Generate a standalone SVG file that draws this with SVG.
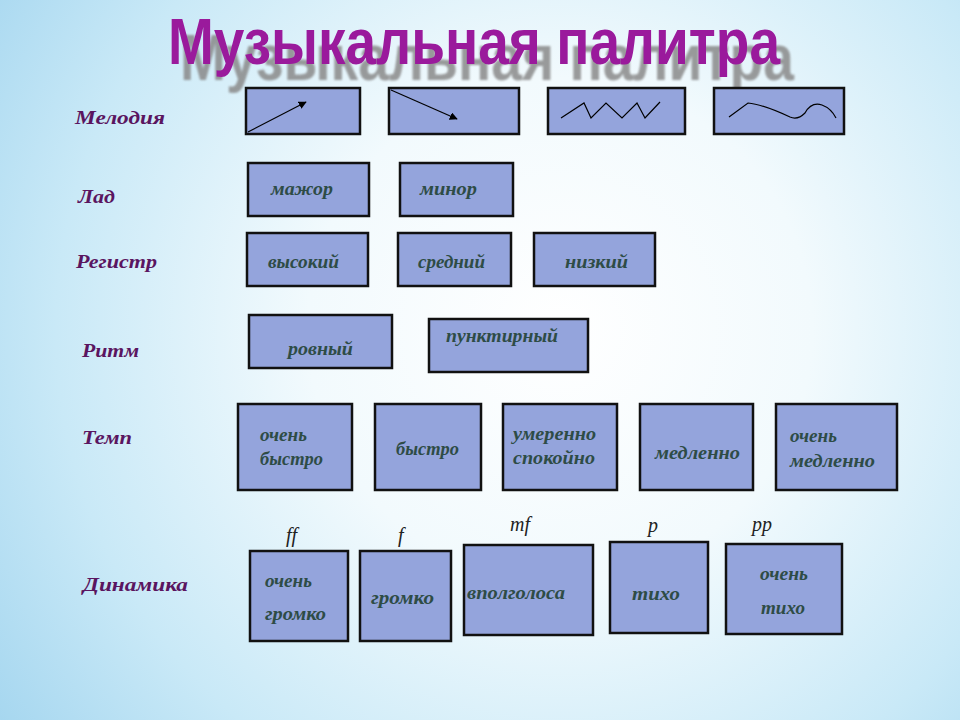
<svg xmlns="http://www.w3.org/2000/svg" width="960" height="720" viewBox="0 0 960 720">
<defs>
<radialGradient id="bg" cx="560" cy="330" r="720" gradientUnits="userSpaceOnUse">
<stop offset="0" stop-color="#ffffff"/>
<stop offset="0.35" stop-color="#f2fafd"/>
<stop offset="0.7" stop-color="#c9e9f7"/>
<stop offset="1" stop-color="#9fd3ee"/>
</radialGradient>
<marker id="ah" viewBox="0 0 10 10" refX="9" refY="5" markerWidth="8" markerHeight="8" markerUnits="userSpaceOnUse" orient="auto">
<path d="M0,0 L10,5 L0,10 z" fill="#000"/>
</marker>
<filter id="blur"><feGaussianBlur stdDeviation="0.8"/></filter>
</defs>
<style>
.box{fill:#94a4dc;stroke:#111;stroke-width:2.5}
.lbl{font-family:"Liberation Serif","DejaVu Serif",serif;font-style:italic;font-weight:bold;font-size:19px;fill:#5a1560}
.t{font-family:"Liberation Serif","DejaVu Serif",serif;font-style:italic;font-weight:bold;font-size:18px;fill:#2e4c46}
.dyn{font-family:"Liberation Serif","DejaVu Serif",serif;font-style:italic;font-size:20px;fill:#222}
.line{fill:none;stroke:#000;stroke-width:1.2}
.title{font-family:"Liberation Sans","DejaVu Sans",sans-serif;font-weight:bold;font-size:64px}
</style>
<rect width="960" height="720" fill="url(#bg)"/>

<g id="title">
<text class="title" x="180" y="80" textLength="614" lengthAdjust="spacingAndGlyphs" fill="#8a8a8a" opacity="0.85" filter="url(#blur)">Музыкальная палитра</text>
<text class="title" x="168" y="64" textLength="612" lengthAdjust="spacingAndGlyphs" fill="#9a1a9c">Музыкальная палитра</text>
</g>

<g id="labels">
<text class="lbl" x="75" y="124" textLength="90" lengthAdjust="spacingAndGlyphs">Мелодия</text>
<text class="lbl" x="78" y="203" textLength="37" lengthAdjust="spacingAndGlyphs">Лад</text>
<text class="lbl" x="76" y="268" textLength="81" lengthAdjust="spacingAndGlyphs">Регистр</text>
<text class="lbl" x="82" y="357" textLength="57" lengthAdjust="spacingAndGlyphs">Ритм</text>
<text class="lbl" x="82" y="444" textLength="50" lengthAdjust="spacingAndGlyphs">Темп</text>
<text class="lbl" x="83" y="591" textLength="105" lengthAdjust="spacingAndGlyphs">Динамика</text>
</g>

<g id="melody1"><rect class="box" x="246" y="88" width="114" height="46"/></g>
<g id="melody2"><rect class="box" x="389" y="88" width="130" height="46"/></g>
<g id="melody3"><rect class="box" x="548" y="88" width="137" height="46"/></g>
<g id="melody4"><rect class="box" x="714" y="88" width="130" height="46"/></g>

<g id="connectors">
<line class="line" x1="248" y1="132" x2="306" y2="102" marker-end="url(#ah)"/>
<line class="line" x1="391" y1="90" x2="457" y2="119" marker-end="url(#ah)"/>
<polyline class="line" points="561,118 584,103 591,118 606,103 622,118 637,103 645,118 660,102"/>
<path class="line" d="M729,117 L748,103 C760,104 775,110 790,117 C797,120 802,116 805,113 C810,104 816,103 822,105 C830,108 834,114 836,118"/>
</g>

<g id="major"><rect class="box" x="248" y="163" width="121" height="53"/><text class="t" x="271" y="195" textLength="62" lengthAdjust="spacingAndGlyphs">мажор</text></g>
<g id="minor"><rect class="box" x="400" y="163" width="113" height="53"/><text class="t" x="420" y="195" textLength="57" lengthAdjust="spacingAndGlyphs">минор</text></g>

<g id="high"><rect class="box" x="247" y="233" width="121" height="53"/><text class="t" x="268" y="268" textLength="71" lengthAdjust="spacingAndGlyphs">высокий</text></g>
<g id="mid"><rect class="box" x="398" y="233" width="113" height="53"/><text class="t" x="418" y="268" textLength="67" lengthAdjust="spacingAndGlyphs">средний</text></g>
<g id="low"><rect class="box" x="534" y="233" width="121" height="53"/><text class="t" x="565" y="268" textLength="63" lengthAdjust="spacingAndGlyphs">низкий</text></g>

<g id="even"><rect class="box" x="249" y="315" width="143" height="53"/><text class="t" x="288" y="355" textLength="65" lengthAdjust="spacingAndGlyphs">ровный</text></g>
<g id="dotted"><rect class="box" x="429" y="319" width="159" height="53"/><text class="t" x="446" y="342" textLength="112" lengthAdjust="spacingAndGlyphs">пунктирный</text></g>

<g id="tempo1"><rect class="box" x="238" y="404" width="114" height="86"/><text class="t" x="260" y="441" textLength="47" lengthAdjust="spacingAndGlyphs">очень</text><text class="t" x="260" y="465" textLength="63" lengthAdjust="spacingAndGlyphs">быстро</text></g>
<g id="tempo2"><rect class="box" x="375" y="404" width="106" height="86"/><text class="t" x="396" y="455" textLength="63" lengthAdjust="spacingAndGlyphs">быстро</text></g>
<g id="tempo3"><rect class="box" x="503" y="404" width="114" height="86"/><text class="t" x="513" y="440" textLength="83" lengthAdjust="spacingAndGlyphs">умеренно</text><text class="t" x="513" y="464" textLength="82" lengthAdjust="spacingAndGlyphs">спокойно</text></g>
<g id="tempo4"><rect class="box" x="640" y="404" width="113" height="86"/><text class="t" x="655" y="459" textLength="85" lengthAdjust="spacingAndGlyphs">медленно</text></g>
<g id="tempo5"><rect class="box" x="776" y="404" width="121" height="86"/><text class="t" x="790" y="442" textLength="47" lengthAdjust="spacingAndGlyphs">очень</text><text class="t" x="790" y="467" textLength="85" lengthAdjust="spacingAndGlyphs">медленно</text></g>

<g id="dyn1"><text class="dyn" x="286" y="542">ff</text><rect class="box" x="250" y="551" width="98" height="90"/><text class="t" x="265" y="587" textLength="47" lengthAdjust="spacingAndGlyphs">очень</text><text class="t" x="265" y="620" textLength="61" lengthAdjust="spacingAndGlyphs">громко</text></g>
<g id="dyn2"><text class="dyn" x="398" y="542">f</text><rect class="box" x="360" y="551" width="91" height="90"/><text class="t" x="371" y="604" textLength="63" lengthAdjust="spacingAndGlyphs">громко</text></g>
<g id="dyn3"><text class="dyn" x="510" y="531">mf</text><rect class="box" x="464" y="545" width="129" height="90"/><text class="t" x="467" y="599" textLength="98" lengthAdjust="spacingAndGlyphs">вполголоса</text></g>
<g id="dyn4"><text class="dyn" x="648" y="532">p</text><rect class="box" x="610" y="542" width="98" height="91"/><text class="t" x="632" y="600" textLength="48" lengthAdjust="spacingAndGlyphs">тихо</text></g>
<g id="dyn5"><text class="dyn" x="752" y="531">pp</text><rect class="box" x="726" y="544" width="116" height="90"/><text class="t" x="760" y="580" textLength="48" lengthAdjust="spacingAndGlyphs">очень</text><text class="t" x="761" y="614" textLength="44" lengthAdjust="spacingAndGlyphs">тихо</text></g>
</svg>
